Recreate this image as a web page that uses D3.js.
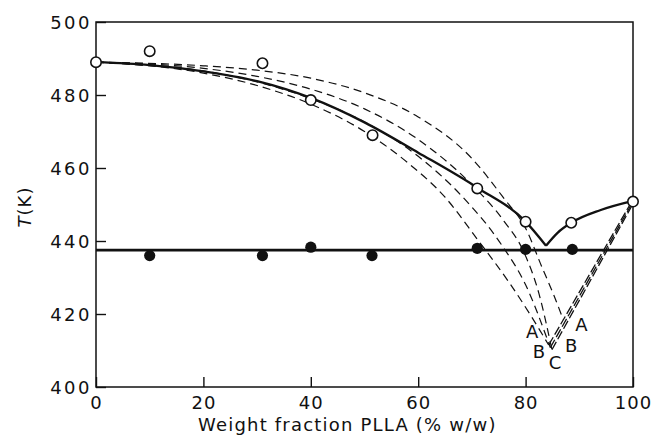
<!DOCTYPE html>
<html>
<head>
<meta charset="utf-8">
<script src="https://cdn.jsdelivr.net/npm/d3@7"></script>
<style>
  body { margin: 0; background: #fff; }
  svg { display: block; }
  .tick text, .lbl { font-family: "DejaVu Sans", sans-serif; font-size: 18px; fill: #111; letter-spacing: 2.5px; }
</style>
</head>
<body>
<div id="chart"></div>
<script>
// open circles: melting point of PLLA in blend
const meltX = [0, 10, 31, 40, 51.5, 71, 80, 88.5, 100];
const meltT = [489, 492, 488.7, 478.6, 469, 454.4, 445.3, 445, 450.8];
// filled circles: second transition
const crystX = [10, 31, 40, 51.4, 71, 80, 88.7];
const crystT = [436, 436, 438.3, 436, 438, 437.7, 437.7];
const flatT = 437.5;

// solid experimental liquidus
const solidLeft = [[0,489],[10,488.2],[20,486.5],[30,483.8],[40,479.2],[50,472.5],[60,464.2],[71,454.6],[80,445.3],[83.8,438.7]];
const solidRight = [[83.8,438.7],[86,442.3],[88.5,445],[94,448.5],[100,451]];

// theoretical (dashed) curves
const dashLeft = [
  [[0,489],[20,486],[30,482.6],[40,477.5],[50,470],[58,461.5],[65,452],[71,440.5],[77,428.5],[81,419.5],[84.3,411.5]],
  [[0,489],[20,486.6],[30,483.6],[40,479],[50,472.6],[60,463.2],[68,452.5],[75.5,439],[80,428],[84.6,410.8]],
  [[0,489],[20,487.3],[30,485.1],[40,481.6],[50,476.2],[60,467.8],[70,455.4],[76,445.4],[79.5,437.5],[82.5,425.5],[84.9,410.2]],
  [[0,489],[20,488],[30,486.8],[40,484.6],[50,480.6],[60,474],[70,462.6],[76,451.6],[80,443.5],[83,433],[85.3,425],[87,418.5]]
];
const dashRight = [
  [[84.3,411.5],[100,451.4]],
  [[84.6,410.8],[100,450.8]],
  [[84.9,410.2],[100,450.2]]
];
const curveLabels = [
  {t:"A", x:81.2, y:415.2}, {t:"B", x:82.5, y:409.6}, {t:"C", x:85.5, y:406.6},
  {t:"B", x:88.5, y:411.5}, {t:"A", x:90.4, y:417}
];
const xTicks = [0, 20, 40, 60, 80, 100];
const yTicks = [400, 420, 440, 460, 480, 500];

const W = 652, H = 441;
const svg = d3.select('#chart').append('svg').attr('width', W).attr('height', H);
const x = d3.scaleLinear([0, 100], [96, 633]);
const y = d3.scaleLinear([400, 500], [387, 22]);

// axes with inward ticks
const gx = svg.append('g').attr('transform', `translate(0,${y(400)})`)
  .call(d3.axisBottom(x).tickValues(xTicks).tickSize(-10).tickPadding(8));
const gy = svg.append('g').attr('transform', `translate(${x(0)},0)`)
  .call(d3.axisLeft(y).tickValues(yTicks).tickSize(-10).tickPadding(4));
[gx, gy].forEach(g => {
  g.select('.domain').remove();
  g.selectAll('.tick line').attr('stroke', '#111').attr('stroke-width', 1.4);
  g.selectAll('.tick text').attr('fill', '#111').style('font-size', '18px');
});
gx.selectAll('.tick text').attr('dy', '0.75em').style('letter-spacing', '1px');
gy.selectAll('.tick text').attr('dy', '0.36em');

svg.append('rect')
  .attr('x', x(0)).attr('y', y(500))
  .attr('width', x(100) - x(0)).attr('height', y(400) - y(500))
  .attr('fill', 'none').attr('stroke', '#111').attr('stroke-width', 1.5);

svg.append('text').attr('class', 'lbl')
  .attr('x', 198).attr('y', 431)
  .style('letter-spacing', '1.2px')
  .text('Weight fraction PLLA (% w/w)');

svg.append('text').attr('class', 'lbl')
  .attr('transform', 'translate(31,207) rotate(-90)')
  .attr('text-anchor', 'middle')
  .style('letter-spacing', '1px')
  .html('<tspan font-style="italic">T</tspan>(K)');

const line = d3.line().x(d => x(d[0])).y(d => y(d[1]));
const smooth = d3.line().x(d => x(d[0])).y(d => y(d[1])).curve(d3.curveMonotoneX);

// dashed theoretical curves
dashLeft.forEach(c => {
  svg.append('path').attr('d', smooth(c))
    .attr('fill', 'none').attr('stroke', '#111').attr('stroke-width', 1.2)
    .attr('stroke-dasharray', '8,5');
});
dashRight.forEach(c => {
  svg.append('path').attr('d', line(c))
    .attr('fill', 'none').attr('stroke', '#111').attr('stroke-width', 1.3)
    .attr('stroke-dasharray', '9,3');
});

// horizontal line
svg.append('line')
  .attr('x1', x(0)).attr('x2', x(100))
  .attr('y1', y(flatT)).attr('y2', y(flatT))
  .attr('stroke', '#111').attr('stroke-width', 2.6);

// solid curves
[solidLeft, solidRight].forEach(c => {
  svg.append('path').attr('d', smooth(c))
    .attr('fill', 'none').attr('stroke', '#111').attr('stroke-width', 2.3);
});

// filled circles
svg.selectAll('circle.f').data(crystX).join('circle').attr('class', 'f')
  .attr('cx', d => x(d)).attr('cy', (d, i) => y(crystT[i]))
  .attr('r', 5.6).attr('fill', '#111');

// open circles
svg.selectAll('circle.o').data(meltX).join('circle').attr('class', 'o')
  .attr('cx', d => x(d)).attr('cy', (d, i) => y(meltT[i]))
  .attr('r', 5.2).attr('fill', '#fff').attr('stroke', '#111').attr('stroke-width', 1.6);

// A, B, C labels
svg.selectAll('text.cl').data(curveLabels).join('text').attr('class', 'cl lbl')
  .attr('x', d => x(d.x)).attr('y', d => y(d.y))
  .attr('text-anchor', 'middle').attr('dy', '0.36em')
  .style('letter-spacing', '0px')
  .text(d => d.t);
</script>
</body>
</html>
